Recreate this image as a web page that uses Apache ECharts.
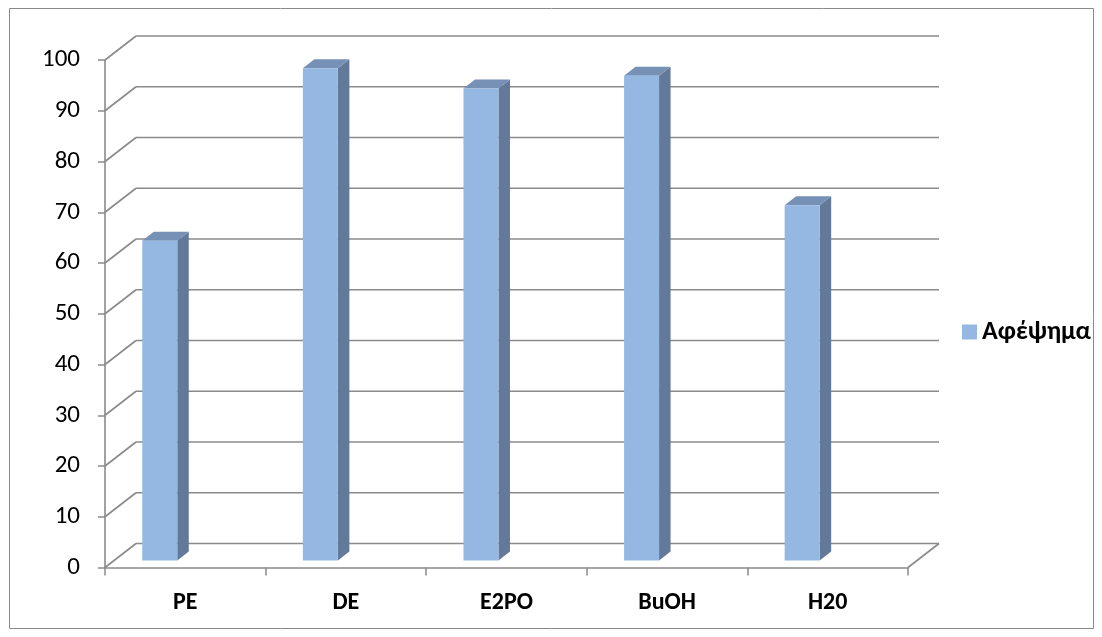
<!DOCTYPE html>
<html>
<head>
<meta charset="utf-8">
<script src="https://cdn.jsdelivr.net/npm/echarts@6/dist/echarts.min.js"></script>
<style>
  html, body { margin: 0; padding: 0; background: #fff; }
  #chart { width: 1102px; height: 637px; }
</style>
</head>
<body>
<div id="chart"></div>
<script>
// Categories and values
const categories = ['PE', 'DE', 'E2PO', 'BuOH', 'H20'];
const seriesName = 'Αφέψημα';
const values = [63, 97, 93, 95.5, 70];
const yTicks = [0, 10, 20, 30, 40, 50, 60, 70, 80, 90, 100];

const FONT = 'Carlito, Lato, "Noto Sans", sans-serif';
const LINE = '#8a8a8a';
const FRONT = '#95b8e3';
const SIDE = '#62799a';
const TOP = '#7690b6';

// oblique depth of the walls and of the columns
const WALL_DX = 31, WALL_DY = 24;
const BAR_LIFT = 7, BAR_DX = 11.5, BAR_DY = 9;

// back wall, floor and the slanted links from the value axis
function renderWall(params, api) {
  const cs = params.coordSys;
  const v = api.value(0);
  const y = api.coord([0, v])[1];
  const x0 = cs.x, x1 = cs.x + cs.width;
  const style = { stroke: LINE, lineWidth: 1.6 };
  const children = [
    { type: 'line', shape: { x1: x0, y1: y, x2: x0 + WALL_DX, y2: y - WALL_DY }, style },
    { type: 'line', shape: { x1: x0 + WALL_DX, y1: y - WALL_DY, x2: x1 + WALL_DX, y2: y - WALL_DY }, style }
  ];
  if (v === 0) {
    children.push({ type: 'line', shape: { x1: x1, y1: y, x2: x1 + WALL_DX, y2: y - WALL_DY }, style });
  }
  return { type: 'group', children };
}

// 3D column: front, side and top faces
function renderBar(params, api) {
  const cat = api.value(0), v = api.value(1);
  const band = api.size([1, 0])[0];
  const base = api.coord([cat, 0]);
  const top = api.coord([cat, v]);
  const xl = base[0] - 0.268 * band;
  const xr = base[0] - 0.05 * band;
  const yt = top[1] - BAR_LIFT;
  const yb = base[1] - BAR_LIFT;
  return {
    type: 'group',
    children: [
      { type: 'polygon', shape: { points: [[xr, yt], [xr + BAR_DX, yt - BAR_DY], [xr + BAR_DX, yb - BAR_DY], [xr, yb]] }, style: { fill: SIDE } },
      { type: 'polygon', shape: { points: [[xl, yt], [xl + BAR_DX, yt - BAR_DY], [xr + BAR_DX, yt - BAR_DY], [xr, yt]] }, style: { fill: TOP } },
      { type: 'rect', shape: { x: xl, y: yt, width: xr - xl, height: yb - yt }, style: { fill: FRONT } }
    ]
  };
}

const chart = echarts.init(document.getElementById('chart'), null, { renderer: 'canvas' });
chart.setOption({
  animation: false,
  backgroundColor: '#fff',
  graphic: [{
    type: 'rect', z: -10,
    shape: { x: 9.5, y: 8.5, width: 1084, height: 620 },
    style: { fill: 'none', stroke: LINE, lineWidth: 1 }
  }],
  grid: { left: 105, right: 194, top: 60, bottom: 69.5 },
  legend: {
    data: [seriesName],
    left: 957, top: 314,
    icon: 'rect', itemWidth: 15, itemHeight: 15, itemGap: 6,
    textStyle: { fontFamily: FONT, fontSize: 26, fontWeight: 'bold', color: '#000' }
  },
  xAxis: {
    type: 'category',
    data: categories,
    axisLine: { lineStyle: { color: LINE, width: 1.6 } },
    axisTick: { show: true, length: 8, lineStyle: { color: LINE, width: 1.5 } },
    axisLabel: { margin: 23, fontFamily: FONT, fontSize: 24, fontWeight: 'bold', color: '#000' },
    splitLine: { show: false }
  },
  yAxis: {
    type: 'value',
    min: 0, max: 100, interval: 10,
    axisLine: { show: true, lineStyle: { color: LINE, width: 1.6 } },
    axisTick: { show: true, length: 7, lineStyle: { color: LINE, width: 1.5 } },
    axisLabel: { margin: 25, fontFamily: FONT, fontSize: 25, color: '#000' },
    splitLine: { show: false }
  },
  series: [
    {
      type: 'custom',
      name: '_wall',
      z: 1,
      clip: false,
      silent: true,
      renderItem: renderWall,
      encode: { y: 0 },
      data: yTicks.map(v => [v])
    },
    {
      type: 'custom',
      name: seriesName,
      z: 5,
      clip: false,
      itemStyle: { color: FRONT },
      renderItem: renderBar,
      encode: { x: 0, y: 1 },
      data: values.map((v, i) => [i, v])
    }
  ]
});
</script>
</body>
</html>
